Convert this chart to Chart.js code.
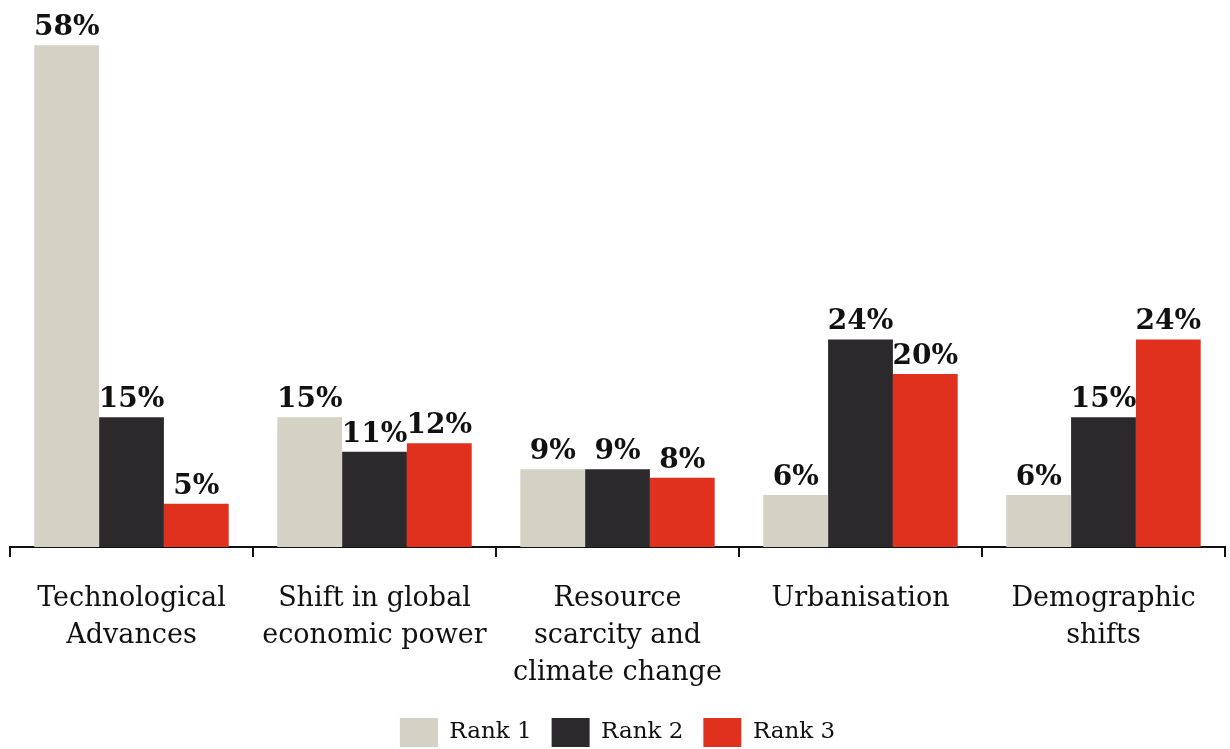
<!DOCTYPE html>
<html>
<head>
<meta charset="utf-8">
<script src="https://cdn.jsdelivr.net/npm/chart.js@4/dist/chart.umd.min.js"></script>
<style>
  html, body { margin: 0; padding: 0; background: #fff; }
  #wrap { width: 1230px; height: 749px; }
</style>
</head>
<body>
<div id="wrap"><canvas id="megatrends"></canvas></div>
<script>
const categories = [
   ['Technological', 'Advances'],
   ['Shift in global', 'economic power'],
   ['Resource', 'scarcity and', 'climate change'],
   'Urbanisation',
   ['Demographic', 'shifts']
]
const rankNames = ['Rank 1', 'Rank 2', 'Rank 3']
const rank1 = [58, 15, 9, 6, 6]
const rank2 = [15, 11, 9, 24, 15]
const rank3 = [5, 12, 8, 20, 24]
const rankColors = ['#d4d1c5', '#2c292c', '#e0311f']

const serif = '"DejaVu Serif", "Liberation Serif", serif'

// prints the percentage above each bar
const valueLabels = {
   id: 'valueLabels',
   afterDatasetsDraw(chart) {
      const ctx = chart.ctx
      ctx.save()
      ctx.font = 'bold 28px ' + serif
      ctx.fillStyle = '#111'
      ctx.textAlign = 'center'
      ctx.textBaseline = 'alphabetic'
      chart.data.datasets.forEach((ds, i) => {
         chart.getDatasetMeta(i).data.forEach((bar, j) => {
            ctx.fillText(ds.data[j] + '%', bar.x, bar.y - 10)
         })
      })
      ctx.restore()
   }
}

new Chart(document.getElementById('megatrends'), {
   type: 'bar',
   data: {
      labels: categories,
      datasets: [
         { label: rankNames[0], data: rank1, backgroundColor: rankColors[0] },
         { label: rankNames[1], data: rank2, backgroundColor: rankColors[1] },
         { label: rankNames[2], data: rank3, backgroundColor: rankColors[2] }
      ]
   },
   options: {
      responsive: true,
      maintainAspectRatio: false,
      animation: false,
      categoryPercentage: 0.8,
      barPercentage: 1.0,
      layout: { padding: { top: 28, left: 10, right: 5, bottom: -8 } },
      plugins: {
         tooltip: { enabled: false },
         legend: {
            position: 'bottom',
            labels: {
               boxWidth: 38,
               boxHeight: 29,
               padding: 20,
               color: '#111',
               font: { family: serif, size: 23 }
            }
         }
      },
      scales: {
         x: {
            afterFit(scale) { scale.height = 151 },
            border: { display: true, color: '#111', width: 2 },
            grid: {
               drawOnChartArea: false,
               drawTicks: true,
               tickLength: 10,
               color: '#111',
               lineWidth: 2
            },
            ticks: {
               color: '#111',
               padding: 23,
               maxRotation: 0,
               autoSkip: false,
               font: { family: serif, size: 27, lineHeight: 1.38 }
            }
         },
         y: {
            display: false,
            min: 0,
            max: 60
         }
      }
   },
   plugins: [valueLabels]
})
</script>
</body>
</html>
